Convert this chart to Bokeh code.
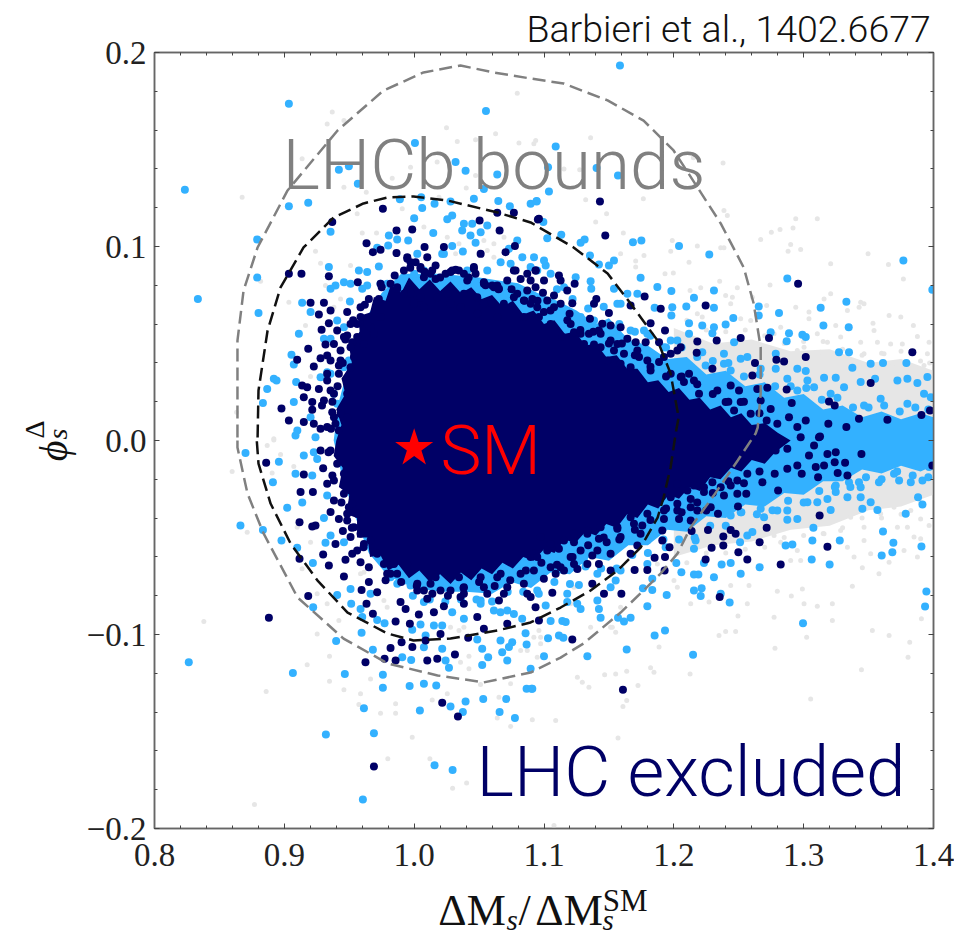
from math import pi
from bokeh.plotting import figure
from bokeh.models import Label, FixedTicker, LinearAxis, Range1d
from bokeh.embed import file_html
from bokeh.resources import INLINE

x_ticks = [0.8, 0.9, 1.0, 1.1, 1.2, 1.3, 1.4]
x_labels = ["0.8", "0.9", "1.0", "1.1", "1.2", "1.3", "1.4"]
y_ticks = [-0.2, -0.1, 0.0, 0.1, 0.2]
y_labels = ["\u22120.2", "\u22120.1", "0.0", "0.1", "0.2"]
x_minor = [0.8 + 0.02 * i for i in range(31)]
y_minor = [-0.2 + 0.02 * i for i in range(21)]

outer_bound = [(.8639,.0015),(.8639,.0515),(.8686,.0773),(.8794,.0995),(.9025,.1289),(.9410,.1598),(.9764,.1804),(1.0072,.1897),(1.0357,.1933),(1.0612,.1897),(1.0897,.1866),(1.1151,.184),(1.1490,.1753),(1.1767,.1649),(1.1998,.1495),(1.2183,.1304),(1.2361,.1119),(1.2538,.0892),(1.2615,.0706),(1.2669,.0479),(1.2669,.0242),(1.2646,.0067),(1.2630,.0036),(1.2492,-.0103),(1.2307,-.0284),(1.2129,-.0448),(1.2029,-.0582),(1.1898,-.0686),(1.1767,-.0773),(1.1590,-.0887),(1.1305,-.1046),(1.1128,-.1119),(1.0897,-.1196),(1.0535,-.1247),(1.0180,-.1211),(.9795,-.1149),(.9456,-.1021),(.9102,-.0809),(.8840,-.0479),(.8716,-.0273),(.8639,-.0036),(.8639,.0015)]
inner_bound = [(.8794,.0015),(.8801,.0258),(.8871,.0567),(.8971,.0789),(.9148,.0995),(.9379,.1149),(.9610,.1222),(.9795,.1253),(.9995,.1258),(1.0257,.1237),(1.0643,.1175),(1.0897,.1124),(1.1228,.0995),(1.1490,.0861),(1.1667,.0706),(1.1875,.0515),(1.1975,.0345),(1.2037,.0119),(1.2014,.0036),(1.1975,-.0139),(1.1921,-.0294),(1.1875,-.0397),(1.1744,-.0552),(1.1567,-.067),(1.1359,-.0773),(1.1128,-.0861),(1.0897,-.0938),(1.0643,-.0979),(1.0280,-.1021),(.9995,-.1031),(.9795,-.0995),(.9487,-.0887),(.9256,-.0722),(.9048,-.0531),(.8894,-.0325),(.8801,-.0119),(.8786,.0015)]

navy_core = [(.9400,0),(.9440,.008),(.9400,.016),(.9470,.024),(.9440,.032),(.9520,.040),(.9500,.048),(.9580,.056),(.9570,.064),(.9660,.066),(.9690,.074),(.9780,.072),(.9820,.080),(.9900,.076),(.9960,.084),(1.0040,.078),(1.0120,.083),(1.0200,.077),(1.0280,.082),(1.0360,.076),(1.0440,.079),(1.0520,.073),(1.0600,.075),(1.0680,.069),(1.0760,.072),(1.0840,.065),(1.0920,.067),(1.1000,.060),(1.1080,.062),(1.1160,.055),(1.1240,.056),(1.1320,.049),(1.1400,.050),(1.1480,.043),(1.1560,.044),(1.1640,.037),(1.1720,.037),(1.1800,.030),(1.1880,.031),(1.1960,.025),(1.2040,.027),(1.2120,.021),(1.2200,.022),(1.2280,.016),(1.2360,.018),(1.2440,.012),(1.2520,.014),(1.2600,.008),(1.2700,.009),(1.2800,.004),(1.2900,0),(1.2780,-.006),(1.2700,-.012),(1.2600,-.010),(1.2520,-.016),(1.2440,-.014),(1.2360,-.020),(1.2280,-.019),(1.2200,-.026),(1.2120,-.024),(1.2040,-.030),(1.1960,-.028),(1.1880,-.035),(1.1800,-.033),(1.1720,-.040),(1.1640,-.038),(1.1560,-.045),(1.1480,-.043),(1.1400,-.049),(1.1320,-.047),(1.1240,-.053),(1.1160,-.051),(1.1080,-.058),(1.1000,-.056),(1.0920,-.062),(1.0840,-.060),(1.0760,-.066),(1.0680,-.063),(1.0600,-.069),(1.0520,-.066),(1.0440,-.072),(1.0360,-.068),(1.0280,-.074),(1.0200,-.069),(1.0120,-.073),(1.0040,-.067),(.9960,-.071),(.9880,-.064),(.9800,-.067),(.9740,-.059),(.9660,-.060),(.9640,-.050),(.9560,-.050),(.9560,-.040),(.9480,-.038),(.9500,-.028),(.9420,-.024),(.9450,-.014),(.9380,-.008)]
blue_core = [(.9900,.086),(1.0200,.086),(1.0500,.084),(1.0800,.081),(1.0950,.076),(1.1100,.072),(1.1250,.067),(1.1400,.060),(1.1500,.063),(1.1650,.052),(1.1800,.049),(1.1950,.042),(1.2100,.043),(1.2250,.034),(1.2400,.036),(1.2550,.028),(1.2700,.030),(1.2850,.022),(1.3000,.024),(1.3150,.016),(1.3300,.018),(1.3450,.012),(1.3600,.015),(1.3750,.011),(1.3900,.014),(1.4000,.012),(1.4000,-.013),(1.3900,-.016),(1.3750,-.013),(1.3600,-.017),(1.3450,-.015),(1.3300,-.021),(1.3150,-.021),(1.3000,-.028),(1.2850,-.027),(1.2700,-.034),(1.2550,-.033),(1.2400,-.040),(1.2250,-.039),(1.2100,-.047),(1.1950,-.046),(1.1800,-.054),(1.1650,-.054),(1.1500,-.062),(1.1350,-.060),(1.1200,-.069),(1.1050,-.068),(1.0900,-.076),(1.0750,-.073),(1.0600,-.079),(1.0400,-.078),(1.0200,-.078),(1.0000,-.076),(.9800,-.070),(.9650,-.058),(.9550,-.040),(.9450,-.020),(.9380,0),(.9420,.020),(.9500,.040),(.9600,.060),(.9750,.076)]
gray_core = [(1.2000,.058),(1.2300,.050),(1.2600,.052),(1.2900,.046),(1.3200,.047),(1.3500,.040),(1.3750,.042),(1.4000,.036),(1.4000,-.028),(1.3750,-.034),(1.3500,-.036),(1.3200,-.044),(1.2900,-.046),(1.2600,-.052),(1.2300,-.054),(1.2000,-.060)]

gray_points = [(.8675,.1254),(.9369,.1693),(.9330,.1632),(.9459,.1650),(1.0794,.1790),(1.0249,.1612),(1.0627,.1581),(1.0332,.1541),(1.0473,.1550),(1.0807,.1533),(1.0922,.1529),(.9137,.1452),(.9831,.1352),(1.0473,.1366),(1.0177,.1435),(.9972,.1409),(.9459,.1306),(.9631,.1280),(.9561,.1169),(.9908,.1194),(1.0401,.1301),(1.0191,.1254),(.9240,.0976),(.9600,.1069),(.9710,.1069),(.9279,.0914),(.9510,.0902),(.8817,.0821),(.9317,.0799),(.9035,.0713),(.9433,.0730),(.9382,.0687),(.9163,.0593),(.8632,.0146),(.8919,.0009),(.9202,.0330),(1.0255,.1048),(1.0345,.1014),(1.0537,.1031),(1.0614,.1014),(1.0692,.1048),(1.0563,.0979),(1.0614,.0945),(1.0319,.0962),(1.0075,.1100),(1.0845,.0773),
(.8598,-.0160),(.8919,.0003),(.8868,-.0026),(.8971,-.0072),(.9073,-.0134),(.8906,-.0167),(.9099,-.0447),(.8714,-.0473),(.9202,-.0524),(.9137,-.0661),(.9253,-.0790),(.9330,-.0842),(.8380,-.0933),(.9253,-.0997),(.9420,-.0928),(.9348,-.1112),(.9176,-.1156),(.8860,-.1294),(.9348,-.1241),(.9459,-.1285),(.9587,-.1306),(.9664,-.1229),(.9574,-.1361),(.9741,-.1406),(.9857,-.1357),(.9857,-.1406),(.9985,-.1529),(.9797,-.1641),(1.0121,-.1641),(1.0404,-.1765),(1.0296,-.1792),(.8770,-.1876),(1.0255,-.1306),(1.0139,-.1337),(1.0653,-.1323),(1.0743,-.1474),(1.0640,-.1430),(1.0422,-.1112),(1.0422,-.1177),(1.0357,-.1143),(1.0871,-.1083),(1.0820,-.1083),(1.0743,-.1254),(1.0511,-.1258),(1.0948,-.1117),(.9767,-.0825),(.9792,-.0859),(1.0280,-.0962),(1.0345,-.0979),(1.0383,-.0962),(1.0922,-.1014),(1.0961,-.0979),(.9613,-.0679),(.9587,-.0687),
(1.0936,.1546),(1.1359,.1560),(1.2379,.1430),(1.2150,.1457),(1.1275,.1395),(1.1154,.1400),(1.1321,.1241),(1.1765,.1246),(1.1482,.1169),(1.2386,.1186),(1.2412,.1160),(1.2939,.1143),(1.3105,.1143),(1.2751,.1074),(1.2818,.1088),(1.2918,.1095),(1.2669,.1036),(1.1398,.1126),(1.1611,.1069),(1.1988,.1031),(1.2181,.1002),(1.2361,.0993),(1.2386,.0993),(1.2900,.1010),(1.2880,.0976),(1.2977,.0985),(1.3496,.0962),(1.3208,.0911),(1.3653,.0907),(1.3768,.0833),(1.1976,.0976),(1.1706,.0925),(1.1590,.0962),(1.1770,.0954),(1.1706,.0894),(1.2117,.0919),(1.1932,.0859),(1.1996,.0864),(1.2353,.0821),(1.2741,.0802),(1.3208,.0756),(1.3157,.0730),(1.3465,.0705),(1.3439,.0713),(1.2489,.0787),(1.2207,.0787),(1.2125,.0773),(1.2399,.0748),(1.2451,.0739),(1.2605,.0739),(1.2715,.0696),(1.2438,.0705),(1.2939,.0687),(1.3041,.0662),(1.3041,.0627),(1.3534,.0605),(1.3658,.0644),(1.3748,.0636),(1.3845,.0593),(1.3876,.0536),(1.3337,.0670),(1.3427,.0687),(1.3247,.0593),(1.3542,.0567),(1.3568,.0507),(1.3670,.0498),(1.3760,.0498),(1.3966,.0507),(1.3439,.0507),(1.3285,.0533),(1.3105,.0550),(1.3183,.0507),(1.3003,.0481),(1.2823,.0584),(1.2772,.0550),(1.2592,.0619),(1.2515,.0627),(1.2181,.0653),(1.2219,.0636),(1.3619,.0447),(1.3953,.0447),(1.3465,.0447),(1.3208,.0430),(1.3131,.0455),(1.2951,.0464),(1.2874,.0438),(1.3927,.0387),(1.3799,.0361),(1.3683,.0387),(1.3465,.0387),
(1.3901,-.0404),(1.3966,-.0438),(1.3850,-.0498),(1.3901,-.0507),(1.3773,-.0567),(1.3658,-.0627),(1.3580,-.0687),(1.3876,-.0601),(1.3452,-.0656),(1.3375,-.0751),(1.3221,-.0842),(1.3105,-.0854),(1.3003,-.0842),(1.2990,-.0765),(1.2905,-.0802),(1.2797,-.0777),(1.2772,-.0911),(1.3221,-.0928),(1.3907,-.0919),(1.3529,-.0979),(1.3658,-.1005),(1.3817,-.1040),(1.3804,-.1117),(1.3445,-.1182),(1.3023,-.1014),(1.2779,-.1071),(1.3054,-.1332),(1.2494,-.0905),(1.2476,-.0985),(1.2399,-.0985),(1.2348,-.1005),(1.2566,-.0842),(1.2271,-.0833),(1.2130,-.0842),(1.1886,-.1065),(1.1821,-.1172),(1.1847,-.1194),(1.2125,-.1203),(1.1637,-.1189),(1.1724,-.1263),(1.1552,-.1203),(1.1467,-.1208),(1.1257,-.1220),(1.1295,-.1246),(1.1346,-.1272),(1.1637,-.1340),(1.1608,-.1371),(1.0910,-.1440),(1.1090,-.1443),(1.1570,-.1533),(1.1077,-.1985),(1.1526,-.0962),(1.1552,-.0988),(1.1359,-.0962),(1.0974,-.1014),(1.0974,-.1048),(1.2027,-.0756),(1.2001,-.0722),(1.2438,-.0747),(1.2579,-.0747),(1.2772,-.0490),(1.2823,-.0524),(1.2951,-.0567),(1.2977,-.0619),(1.2900,-.0619),(1.3337,-.0550),(1.3388,-.0601),(1.3465,-.0515),(1.3516,-.0584),(1.3722,-.0447),(1.3799,-.0447),(1.3362,-.0395),(1.3465,-.0447),(1.3285,-.0464),(1.3593,-.0378),(1.3696,-.0344),(1.3825,-.0361),(1.3157,-.0481),(1.2746,-.0412),(1.2438,-.0636),(1.1873,-.0636),(1.1590,-.0859),(1.1231,-.0756),(1.1205,-.0842),(1.1513,-.0962),
(1.21,.062),(1.225,.057),(1.24,.056),(1.255,.057),(1.27,.054),(1.285,.050),(1.30,.051),(1.315,.051),(1.33,.047),(1.345,.044),(1.36,.045),(1.375,.046),(1.39,.041),(1.397,.040),(1.39,-.032),(1.375,-.038),(1.36,-.040),(1.345,-.040),(1.33,-.045),(1.315,-.048),(1.30,-.049),(1.285,-.050),(1.27,-.055),(1.255,-.056),(1.24,-.058),(1.225,-.058),(1.21,-.063)]

blue_points = [(.9035,.1736),(1.0553,.1698),(.8234,.1292),(.8791,.1036),(.8791,.0840),(.8334,.0729),(.8801,.0657),(.9035,.1208),(.9184,.1225),(1.0006,.1533),(.9420,.1395),(.9497,.1414),(.9566,.1323),(.9890,.1244),(1.0054,.1254),(1.0062,.1199),(1.0396,.1390),(1.0640,.1371),(1.0319,.1435),
(.9356,.1076),(.9343,.0894),(.9574,.0876),(.9638,.0868),(.9728,.0897),(.9805,.1057),(.9869,.1036),(.9954,.1031),(1.0147,.1069),(1.0,.1146),(1.0157,.122),(1.0280,.1232),(1.0255,.114),(1.0293,.116),(1.0383,.1117),(1.037,.1083),(1.0447,.1117),(1.0434,.1057),(1.0512,.1074),(1.0563,.1108),(1.0460,.1246),(1.0537,.1297),(1.0648,.1234),(1.0737,.1208),(1.0897,.122),(1.0943,.1234),(1.0794,.1031),(1.073,.0988),(1.0473,.1019),(1.0293,.1002),(1.0375,.0974),(1.0216,.0962),(1.0024,.0962),(.9800,.1005),(.9715,.0993),
(.9459,.0816),(.9394,.0799),(.9356,.0782),(.951,.0808),(.9638,.0799),(.96,.0782),(.9741,.0808),(.9792,.0808),(.9137,.0710),(.9202,.0662),(.9112,.0550),(.9356,.0524),(.9305,.0524),(.9407,.0619),(.9459,.0584),(.9505,.0717),(.9055,.0442),(.9073,.0392),(.8919,.0318),(.894,.0309),(.8868,.0266),(.9091,.0301),(.8835,.0193),(.9073,.0198),(.933,.0352),(.9279,.0326),(.9202,.0120),(.91,.0052),(.9086,.0026),(.924,.0017),
(.8701,-.0064),(.8958,-.011),(.9086,-.0172),(.9215,-.0181),(.8912,-.0215),(.915,-.0077),(.9227,-.006),(.9253,-.0095),(.933,-.0284),(.9138,-.032),(.9022,-.0347),(.9305,-.0399),(.8662,-.0438),(.8835,-.0461),(.8978,-.0515),(.9099,-.0553),(.9317,-.0527),(.9356,-.0490),(.9459,-.0524),(.922,-.0632),(.9407,-.0796),(.9222,-.0859),(.951,-.0765),(.9515,-.0842),(.9587,-.0868),(.9664,-.079),(.96,-.091),(.9715,-.0925),(.9772,-.0942),(.9595,-.0991),(.9399,-.1034),(.9682,-.1079),(.9908,-.1117),(.9977,-.1131),(.9985,-.0976),(1.0049,-.0948),(1.0088,-.1005),(1.0152,-.0954),(1.0216,-.0954),(1.0075,-.1066),(1.0216,-.1074),(1.0242,-.1134),(1.0268,-.1172),(1.0486,-.1026),(1.0524,-.1074),(1.057,-.1117),(1.0524,-.1157),(1.0665,-.1031),(1.0755,-.1040),(1.0678,-.1091),(1.073,-.1065),(1.0717,-.1134),(1.0858,-.0993),(1.0866,-.1052),(1.0897,-.1177),
(.8264,-.1143),(.9066,-.1198),(.9466,-.1203),(.9759,-.1208),(.9759,-.1275),(.9965,-.1266),(1.0075,-.1254),(1.017,-.1263),(.9613,-.138),(1.0044,-.1392),(1.028,-.1371),(1.0396,-.1345),(1.0375,-.14),(1.0532,-.1333),(1.0709,-.1333),(1.0658,-.14),(1.0776,-.1431),(1.0866,-.128),(1.0904,-.128),(.932,-.1515),(.969,-.1509),(1.0157,-.1674),(1.0296,-.1698),(.9605,-.185),
(.9818,-.0705),(.9921,-.0722),(.987,-.0739),(.9972,-.0747),(1.0614,-.0876),(1.0665,-.0885),(1.0717,-.0876),(1.0512,-.0842),(1.0383,-.0919),(1.0293,-.0885),(1.0075,-.0833),(1.0768,-.0894),(1.0832,-.0919),(1.0845,-.0636),(1.0884,-.0670),(1.0537,-.0636),(1.0512,-.0825),
(.9407,.0189),(.9381,.0241),(.9356,.0344),(.9459,.0378),(.9497,.0412),(1.064,.0739),(1.0717,.0773),(1.0794,.0722),(1.0358,.0790),(1.0280,.0782),(1.0178,.0756),(1.0,.0859),(1.0075,.0876),(1.0229,.0962),(1.0409,.0876),(1.0563,.0876),(1.0666,.0919),(1.0743,.0911),(1.0833,.0945),(1.0897,.0894),(1.0922,.0739),
(1.1585,.1933),(1.1090,.1516),(1.1031,.1409),(1.1405,.1404),(1.1570,.1366),(1.1038,.1284),(1.0943,.1232),(1.0995,.1126),(1.1025,.1043),(1.1133,.1060),(1.1282,.1019),(1.1313,.1036),(1.1685,.1022),(1.175,.1031),(1.204,.1002),(1.2273,.0959),(1.1354,.0954),(1.1423,.0907),(1.1500,.0902),(1.1539,.0928),(1.0923,.0945),(1.1013,.0902),(1.1244,.0842),(1.1359,.0821),(1.1364,.0782),(1.1744,.0839),(1.1873,.0791),(1.1981,.0770),(1.2155,.0736),(1.2309,.0773),(1.1539,.0782),(1.1642,.0756),(1.1719,.0756),(1.1565,.0705),(1.1988,.0687),(1.2096,.0691),(1.1852,.0684),(1.1981,.0644),(1.2309,.0684),(1.2654,.0691),(1.2654,.0644),(1.2810,.0657),(1.2874,.0835),(1.3131,.0684),(1.3329,.0715),(1.3152,.0593),(1.3347,.0584),(1.2458,.0631),(1.2399,.0598),(1.2309,.0584),(1.2219,.0593),(1.2117,.0605),(1.2297,.0553),(1.2117,.0550),(1.2746,.0558),(1.2887,.0553),(1.2869,.0512),(1.2990,.0545),(1.3016,.0533),(1.3272,.0455),(1.3349,.0455),(1.3375,.0375),(1.3516,.0395),(1.3611,.0400),(1.3791,.0400),(1.3768,.0928),(1.3991,.0777),(1.3157,.0323),(1.3247,.0323),(1.3439,.0301),(1.3550,.0318),(1.3722,.0309),(1.3799,.0318),(1.3876,.0296),(1.3953,.0327),(1.3311,.0275),(1.3979,.0223),(1.3029,.0309),(1.2874,.0318),(1.2785,.0447),(1.2566,.0430),(1.2951,.0370),(1.3016,.0358),(1.2785,.0370),(1.2669,.0370),(1.2464,.0507),(1.2386,.0447),(1.2219,.0455),(1.2027,.0516),(1.1976,.0516),(1.1924,.0481),(1.2245,.0387),(1.2386,.0395),(1.2438,.0361),(1.2515,.0421),(1.1590,.0705),(1.1231,.0636),(1.1282,.0636),(1.1385,.0619),(1.1539,.0567),(1.1667,.0567),(1.1770,.0567),(1.1051,.0859),(1.1154,.0790),(1.1,.0928),(1.0948,.0876),(1.1077,.0619),(1.0974,.0739),(1.1282,.0533),(1.1565,.0412),(1.1796,.0550),(1.1667,.0430),
(1.3465,.0181),(1.3593,.0215),(1.3799,.0189),(1.3208,.0241),(1.3080,.0275),(1.2951,.0258),(1.3927,.0241),
(1.3945,-.0778),(1.3935,-.0856),(1.2995,-.0942),(1.2148,-.1105),(1.1637,-.1077),(1.1334,-.1112),(1.1,-.1112),(1.0910,-.128),(1.1932,-.0979),(1.1852,-.1005),(1.1667,-.0914),(1.1616,-.0933),(1.1570,-.0914),(1.1436,-.0914),(1.1423,-.0868),(1.1796,-.0854),(1.2430,-.0835),(1.1945,-.0796),(1.1834,-.0770),(1.1762,-.0761),(1.2207,-.0802),(1.2155,-.0773),(1.2214,-.0761),(1.2361,-.0790),(1.2155,-.0691),(1.2189,-.0691),(1.2309,-.0705),(1.2058,-.0679),(1.2019,-.0631),(1.2232,-.0631),(1.2368,-.0639),(1.2438,-.0632),(1.2515,-.0687),(1.2661,-.0653),(1.1834,-.0713),(1.3062,-.0613),(1.3200,-.0639),(1.3601,-.0593),(1.3683,-.0576),(1.3907,-.0546),(1.3691,-.0527),(1.3278,-.0515),(1.3067,-.0515),(1.2861,-.0541),(1.2913,-.0536),(1.3075,-.0450),(1.3611,-.0469),(1.2951,-.0404),(1.2874,-.0409),(1.3786,-.0378),(1.3568,-.0358),(1.3452,-.0352),(1.3208,-.0358),(1.3915,-.0330),(1.3881,-.0292),(1.3516,-.0318),(1.3439,-.0292),(1.3337,-.0292),(1.3183,-.0301),(1.3105,-.0318),(1.3029,-.0318),(1.2874,-.0361),(1.2797,-.0361),(1.2695,-.0395),(1.2669,-.0352),(1.2438,-.0387),(1.2515,-.0370),(1.2168,-.0515),(1.2155,-.0558),(1.1937,-.0550),(1.1796,-.0515),(1.2510,-.0524),(1.2566,-.0490),(1.2605,-.0472),(1.3247,-.0266),(1.3349,-.0215),(1.3426,-.0215),(1.3580,-.0215),(1.3735,-.0206),(1.3825,-.0215),(1.3915,-.0206),(1.3439,-.0241),(1.3247,-.0232),(1.3696,-.0172),(1.3966,-.0137),(1.2682,-.0215),
(1.1051,-.0931),(1.1141,-.0931),(1.1167,-.0936),(1.1031,-.1019),(1.1115,-.1005),(1.1149,-.1017),(1.1013,-.0851),(1.1179,-.0790),(1.1282,-.0868),(1.1411,-.0825),(1.1269,-.0745),(1.1513,-.0756),(1.1552,-.0722),(1.1411,-.0687),(1.1590,-.0670),(1.1667,-.0515),(1.1154,-.0601),(1.1308,-.0619),(1.1565,-.0550),(1.0948,-.0773),(1.1179,-.0833),(1.1256,-.0842),(1.1796,-.0636),
(1.110,.078),(1.122,.073),(1.134,.068),(1.146,.069),(1.158,.060),(1.170,.056),(1.182,.054),(1.194,.048),(1.206,.048),(1.218,.043),(1.230,.041),(1.242,.040),(1.254,.033),(1.266,.034),(1.278,.028),(1.290,.028),(1.302,.027),(1.314,.021),(1.326,.022),(1.338,.017),(1.350,.017),(1.362,.018),(1.374,.015),(1.386,.017),(1.396,.016),
(1.396,-.019),(1.384,-.018),(1.372,-.016),(1.360,-.020),(1.348,-.019),(1.336,-.024),(1.324,-.024),(1.312,-.026),(1.300,-.032),(1.288,-.031),(1.276,-.036),(1.264,-.038),(1.252,-.037),(1.240,-.044),(1.228,-.044),(1.216,-.050),(1.204,-.051),(1.192,-.051),(1.180,-.058),(1.168,-.059),(1.156,-.066),(1.144,-.066),(1.132,-.065),(1.120,-.074),(1.108,-.073),(1.096,-.079),(1.084,-.078),(1.072,-.078),(1.060,-.083),(1.048,-.082),(1.036,-.082),(1.024,-.083),(1.012,-.082),(.999,-.080)]

navy_points = [(.9759,.1194),(.9369,.1126),(.9035,.0859),(.9132,.0859),(.9343,.0847),(.9633,.1017),(.9682,.0971),(.9741,.0983),(.9864,.1083),(.9985,.1088),(.9864,.0966),(1.0080,.0997),(1.0229,.0997),(1.0504,.1134),(1.0658,.1083),(1.0640,.1174),(1.0768,.1174),(1.0953,.1139),(1.0512,.0962),(1.0704,.0971),(1.0776,.1002),
(.9566,.0816),(.9741,.0808),(.9947,.0945),(1.0101,.0945),(1.0165,.0902),(1.0280,.0868),(1.0460,.0885),(1.0383,.0859),(.9972,.0919),(1.0049,.0885),(1.0126,.0859),(1.0614,.0790),(1.0537,.0808),(1.0781,.0876),(1.0871,.0859),(1.0935,.0876),(1.0717,.0825),(1.0871,.0773),(1.0383,.0756),(1.0794,.0756),(1.0640,.0799),(.9921,.0876),(.9869,.0790),(.9972,.0756),(.9818,.0808),(.9728,.0730),(.9651,.0730),(.9202,.0710),(.9305,.0710),(.9356,.0670),(.9266,.0650),(.9484,.0662),(.9587,.0687),(.9741,.0636),(.9587,.0636),(.9510,.0601),(.9343,.0605),(.9287,.0571),(.9664,.0584),(.9484,.0541),(.9382,.0498),(.9317,.0495),(.9184,.0473),(.9099,.0416),(.9279,.0424),(.9330,.0438),(.9433,.0464),(.9523,.0507),(.9420,.0387),(.9227,.0382),(.9137,.0284),(.9176,.0275),(.9266,.0266),(.9356,.0258),(.9150,.0223),(.9215,.0198),(.9290,.0181),(.9215,.0158),(.8978,.0165),(.9035,.0103),(.9150,.0095),(.9369,.0146),(.9279,.0060),(.9227,.0086),(.9433,.0138),(.9394,.0086),
(.8860,-.0115),(.9150,-.0175),(.9299,-.0143),(.9279,-.0052),(.9125,-.0266),(.9220,-.0266),(.9382,-.0309),(.9356,-.0369),(.9420,-.0404),(.9117,-.0421),(.9215,-.0443),(.9240,-.0438),(.9451,-.0467),(.9394,-.0533),(.9299,-.0588),(.9117,-.0610),(.9343,-.0644),(.9459,-.0701),(.9471,-.0615),(.9184,-.0802),(.9595,-.0770),(.9633,-.0842),(.9682,-.0893),(.8881,-.0914),(.9857,-.0933),(.9967,-.0945),(1.0036,-.0897),(1.0101,-.0816),(1.0152,-.0885),(.9934,-.0868),(.9895,-.0833),(1.0229,-.0854),(1.0383,-.0842),(1.0486,-.0910),(1.0537,-.0971),(1.0717,-.0945),(1.0203,-.0997),(1.0088,-.1031),(.9903,-.1040),(.9818,-.1070),(.9986,-.1065),(1.0416,-.1017),(1.0314,-.1103),(.9625,-.1143),(.9772,-.1125),(.9857,-.1134),(1.0101,-.1134),(1.0178,-.1125),(1.0216,-.1352),(1.0337,-.1423),(.9690,-.1681),
(.9613,-.0533),(.9523,-.0584),(.9587,-.0627),(.9651,-.0653),(.9651,-.0730),(.9715,-.0782),(.9818,-.0687),(1.0024,-.0773),(1.0126,-.0739),(1.0280,-.0773),(1.0383,-.0790),(1.0563,-.0790),(1.0653,-.0825),(1.0871,-.0790),(1.0935,-.0859),(1.0666,-.0687),(1.0820,-.0687),(1.0512,-.0705),(1.0345,-.0705),(1.0165,-.0705),(1.0897,-.0601),(.9484,-.0412),(.9497,-.0344),
(1.1431,.1232),(1.0961,.1143),(1.1472,.1057),(1.0936,.0876),(1.1,.0825),(1.1115,.0851),(1.1236,.0808),(1.1128,.0825),(1.0992,.0761),(1.1077,.0748),(1.1179,.0773),(1.0910,.0730),(1.1077,.0687),(1.1218,.0708),(1.1403,.0730),(1.1385,.0705),(1.1500,.0657),(1.1197,.0653),(1.0999,.0662),(1.0961,.0636),(1.1354,.0627),(1.1590,.0584),(1.1667,.0696),(1.1775,.0742),(1.1899,.0679),(1.2245,.0696),(1.1821,.0605),(1.1932,.0567),(1.2181,.0510),(1.2330,.0516),(1.2515,.0528),(1.2733,.0528),(1.2957,.0808),(1.1513,.0593),(1.1449,.0602),(1.1423,.0567),(1.1346,.0550),(1.1308,.0498),(1.1385,.0495),(1.1513,.0516),(1.1642,.0524),(1.1706,.0507),(1.1783,.0507),(1.1886,.0507),(1.2053,.0481),(1.1976,.0447),(1.2176,.0452),(1.1732,.0430),(1.1886,.0404),(1.1539,.0464),(1.1141,.0533),(1.1231,.0558),(1.1051,.0601),(1.3016,.0430),(1.2849,.0407),(1.2790,.0416),(1.2625,.0399),(1.2605,.0335),(1.3837,.0455),(1.3516,.0297),(1.2297,.0370),(1.2117,.0344),(1.2155,.0309),(1.2078,.0301),(1.2438,.0284),(1.2502,.0258),(1.2335,.0258),(1.2194,.0241),(1.2515,.0198),(1.2399,.0198),(1.2464,.0155),(1.2643,.0266),(1.2720,.0272),(1.2869,.0263),(1.2669,.0206),(1.2746,.0163),(1.2908,.0193),(1.3195,.0201),(1.3239,.0181),(1.2715,.0103),(1.2887,.0120),(1.3016,.0103),(1.3190,.0086),(1.3329,.0069),(1.3426,.0112),(1.3645,.0107),(1.3907,.0132),(1.3973,.0155),(1.2592,.0138),(1.2797,.0086),(1.2951,.0069),(1.3118,.0017),
(1.3126,.0021),(1.3445,-.0069),(1.3080,-.0026),(1.3041,-.0077),(1.2951,-.0129),(1.2874,-.0146),(1.2985,-.0172),(1.3093,-.0137),(1.3157,-.0129),(1.3183,-.0069),(1.3247,-.0060),(1.3239,-.0112),(1.3319,-.0115),(1.3262,-.0167),(1.3337,-.0180),(1.3111,-.0189),(1.3991,-.0129),(1.2777,-.0172),(1.2682,-.0215),(1.2803,-.0258),(1.2558,-.0275),(1.2494,-.0340),(1.2340,-.0378),(1.2250,-.0361),(1.2715,-.0450),(1.3123,-.0386),(1.2438,-.0461),(1.2263,-.0461),(1.2137,-.0467),(1.2381,-.0495),(1.2476,-.0481),(1.2661,-.0524),(1.3183,-.0548),(1.2381,-.0541),(1.2291,-.0553),(1.1967,-.0550),(1.2497,-.0576),(1.2566,-.0613),(1.2245,-.0613),(1.2823,-.0639),(1.1932,-.0601),(1.1852,-.0605),(1.1929,-.0670),(1.1796,-.0667),(1.1698,-.0667),(1.2353,-.0807),(1.1608,-.1285),(1.1218,-.1026),(1.0961,-.0928),(1.1596,-.0790),(1.1462,-.0790),(1.1064,-.0785),(1.1372,-.0739),(1.1513,-.0670),(1.1423,-.0636),(1.1257,-.0662),(1.1154,-.0670),(1.1090,-.0687),(1.0999,-.0713),(1.1372,-.0593),(1.1282,-.0567),(1.1205,-.0601),(1.1513,-.0584),(1.1667,-.0584),(1.0923,-.0584),(1.1025,-.0567),(1.1115,-.0558),(1.1231,-.0524),(1.1423,-.0507),(1.1483,-.0524),(1.1334,-.0481),(1.1719,-.0541),(1.1911,-.0515),(1.1911,-.0464),(1.1565,-.0455),(1.1693,-.0429),(1.1757,-.0438),(1.1924,-.0404),(1.2040,-.0404),(1.2130,-.0412),(1.2181,-.0361),(1.2027,-.0361),(1.2027,-.0223),(1.2155,-.0232),(1.2232,-.0266),(1.2297,-.0215),(1.2438,-.0232),(1.2386,-.0283),(1.2130,-.0301),(1.2566,-.0172),(1.2784,-.0052),(1.2874,-.0043),(1.2977,.0017),
(.9947,.0937),(1.0011,.0919),(1.0049,.0894),(1.0075,.0842),(1.0139,.0876),(1.0165,.0833),(1.0242,.0859),(1.0293,.0876),(1.0345,.0876),(1.0460,.0894),(1.0473,.0859),(1.0537,.0816),(1.0601,.0799),(1.0653,.0782),(1.0768,.0876),(1.0820,.0833),(1.0897,.0825),(1.0935,.0790),(.9869,.0782),(.9921,.0756),(.9998,.0705),(1.0049,.0739),(1.0075,.0687),(1.0178,.0739),(1.0255,.0756),(1.0280,.0705),(1.0358,.0687),(1.0409,.0825),(1.0486,.0739),(1.0537,.0705),(1.0601,.0705),(1.0691,.0705),(1.0768,.0739),(1.0845,.0722),(1.0897,.0705),(1.0486,.0653),(1.0640,.0636),(1.0845,.0636),
(.9407,.0567),(.9459,.0533),(.9561,.0601),(.9638,.0601),(.9561,.0533),(.9510,.0481),(.9613,.0498),(.9433,.0412),(.9356,.0412),(.9330,.0344),(.9420,.0344),(.9484,.0309),(.9330,.0309),(.9382,.0241),(.9305,.0206),(.9484,.0241),(.9459,.0172),(.9382,.0120),(.9484,.0120),(.9330,.0069),(.9420,.0052),(.9510,.0378),(.9536,.0430),(.9690,.0550),
(.9356,-.0052),(.9407,-.0120),(.9382,-.0206),(.9459,-.0172),(.9330,-.0223),(.9459,-.0275),(.9523,-.0326),(.9484,-.0378),(.9561,-.0378),(.9536,-.0447),(.9587,-.0481),(.9664,-.0515),(.9510,-.0498),(.9561,-.0567),(.9715,-.0584),(.9767,-.0636),(.9844,-.0636),(.9792,-.0687),(.9869,-.0687),(.9947,-.0636),(1.0024,-.0739),(1.0075,-.0773),(1.0203,-.0773),(1.0383,-.0756),(1.0357,-.0807),(1.0434,-.0687),(1.0537,-.0756),(1.0640,-.0705),(1.0717,-.0756),(1.0845,-.0739),(1.0897,-.0807),(1.0691,-.0790),(1.0922,-.0670),
(1.0948,.0687),(1.1025,.0722),(1.1128,.0705),(1.1205,.0601),(1.1282,.0550),(1.1436,.0550),(1.1565,.0498),(1.1436,.0481),(1.1616,.0447),(1.1719,.0464),(1.1796,.0412),(1.1924,.0430),(1.2027,.0464),(1.1590,.0395),(1.1667,.0378),(1.1821,.0361),(1.1976,.0344),(1.2053,.0327),(1.1488,.0412),
(1.0974,-.0498),(1.1051,-.0533),(1.1154,-.0515),(1.1231,-.0481),(1.1334,-.0464),(1.1436,-.0447),(1.1565,-.0447),(1.1667,-.0395),(1.1796,-.0378),(1.1924,-.0361),(1.0948,-.0601),(1.1051,-.0653),(1.1128,-.0653),(1.1231,-.0636),(1.1334,-.0636),(1.1411,-.0567),(1.1590,-.0498),(1.1744,-.0481),(1.1976,-.0292),(1.2027,-.0326),(1.2104,-.0258),(1.2232,-.0241),(1.2361,-.0241),(1.2489,-.0275),(1.2284,-.0344),(1.2130,-.0344),(1.2489,-.0206),
(.962,.070),(.975,.079),(.985,.085),(.997,.089),(1.008,.087),(1.020,.084),(1.032,.088),(1.042,.084),(1.055,.080),(1.065,.078),(1.075,.078),(1.085,.072),(1.095,.072),(1.105,.067),(1.118,.062),(1.128,.057),(1.138,.056),(1.150,.050),(1.160,.050),(1.170,.044),(1.182,.038),(1.194,.033),(1.206,.033),(1.218,.029),(1.230,.024),(1.242,.020),(1.254,.020),(1.266,.014),
(1.266,-.016),(1.254,-.022),(1.242,-.021),(1.230,-.027),(1.218,-.032),(1.206,-.037),(1.194,-.035),(1.182,-.041),(1.170,-.046),(1.158,-.051),(1.146,-.050),(1.134,-.054),(1.122,-.060),(1.110,-.064),(1.098,-.063),(1.086,-.067),(1.074,-.072),(1.062,-.075),(1.050,-.073),(1.038,-.076),(1.026,-.080),(1.014,-.079),(1.002,-.075),(.990,-.073),(.978,-.072),
(.961,-.055),(.952,-.045),(.944,-.032),(.937,-.018),(.934,-.006),(.936,.006),(.937,.020),(.941,.028),(.945,.040),(.947,.052),(.953,.062)]

sm_x = [1.0]
sm_y = [-0.004]

W, H = 954, 939
NAVY, BLUE, GRAY = "#000066", "#33b1ff", "#e6e6e6"
LIGHT = "Helvetica Neue, Roboto Light, Lato Light, Liberation Sans"
SERIF = "Liberation Serif"

p = figure(width=W, height=H, x_range=Range1d(0.8, 1.4), y_range=Range1d(-0.2, 0.2),
           output_backend="svg", toolbar_location=None, x_axis_location=None, y_axis_location=None,
           min_border_left=154, min_border_right=21, min_border_top=52, min_border_bottom=111,
           background_fill_color="white", outline_line_color="#666666", outline_line_width=1.5)
p.grid.visible = False


def xs(pts):
    return [a for a, _ in pts]


def ys(pts):
    return [b for _, b in pts]


p.patch(xs(gray_core), ys(gray_core), color=GRAY, line_width=0)
p.scatter(xs(gray_points), ys(gray_points), size=5, color=GRAY, line_width=0)
p.patch(xs(blue_core), ys(blue_core), color=BLUE, line_width=0)
p.scatter(xs(blue_points), ys(blue_points), size=8, color=BLUE, line_width=0)
p.patch(xs(navy_core), ys(navy_core), color=NAVY, line_width=0)
p.scatter(xs(navy_points), ys(navy_points), size=8, color=NAVY, line_width=0)
p.line(xs(outer_bound), ys(outer_bound), line_color="#808080", line_width=2.5, line_dash="13 6")
p.line(xs(inner_bound), ys(inner_bound), line_color="#111111", line_width=2.5, line_dash="13 6")
p.scatter(sm_x, sm_y, marker="star", size=40, color="#ff0000", line_width=0)


def make_axis(side, ticks, minor, labels=None, standoff=8):
    ax = LinearAxis(ticker=FixedTicker(ticks=ticks, minor_ticks=minor),
                    axis_line_color="#666666", axis_line_width=1.5,
                    major_tick_in=5, major_tick_out=0, minor_tick_in=3, minor_tick_out=0,
                    major_tick_line_color="#444444", minor_tick_line_color="#444444",
                    major_tick_line_width=1, minor_tick_line_width=1)
    if labels:
        ax.major_label_overrides = {t: s for t, s in zip(ticks, labels)}
        ax.major_label_text_font = SERIF
        ax.major_label_text_font_size = "33px"
        ax.major_label_text_color = "#222222"
        ax.major_label_standoff = standoff
    else:
        ax.major_label_overrides = {t: "" for t in ticks}
        ax.major_label_standoff = 0
    p.add_layout(ax, side)
    return ax


make_axis("below", x_ticks, x_minor, x_labels, standoff=15)
make_axis("left", y_ticks, y_minor, y_labels)
make_axis("above", x_ticks, x_minor)
make_axis("right", y_ticks, y_minor)


def piece_axis(side, where, texts, size, standoff, style="normal"):
    # Axis titles with mixed fonts: extra axes that only carry tick labels, stacked on one another
    ax = LinearAxis(ticker=FixedTicker(ticks=where), axis_line_color=None,
                    major_tick_in=0, major_tick_out=0, minor_tick_in=0, minor_tick_out=0,
                    major_label_overrides=dict(zip(where, texts)),
                    major_label_text_font=SERIF, major_label_text_font_size=f"{size}px",
                    major_label_text_font_style=style, major_label_text_color="#111111",
                    major_label_standoff=standoff)
    if side == "left":
        ax.major_label_orientation = pi / 2
    p.add_layout(ax, side)


piece_axis("below", [1.0755, 1.1495], ["s", "s"], 29, 35, style="italic")
piece_axis("below", [1.0446, 1.0851, 1.1193], ["\u0394M", "/", "\u0394M"], 44, -53)
piece_axis("below", [1.1625], ["SM"], 31, -56)

piece_axis("left", [0.0062], ["s"], 28, 26, style="italic")
piece_axis("left", [0.0], ["\u03d5"], 40, -30, style="italic")
piece_axis("left", [0.0103], ["\u0394"], 28, -29)


def put(text, px, py, size, color="#111111", font=LIGHT, panel=None):
    # A Label's screen y is measured upward from the bottom of the panel that holds it
    shift = 0.335 * size
    base = 52 if panel == "above" else 828
    label = Label(x=px - 154, y=base - py + shift, x_units="screen", y_units="screen", text=text,
                  text_font=font, text_font_size=f"{size}px", text_color=color,
                  text_baseline="alphabetic", text_align="left")
    if panel:
        p.add_layout(label, panel)
    else:
        p.add_layout(label)


put("Barbieri et al., 1402.6677", 526, 41, 37.5, panel="above")
put("LHCb bounds", 282, 188, 71, color="#808080")
put("SM", 440, 473, 69, color="#ff0000")
put("LHC excluded", 476, 795, 71, color=NAVY)

open("out.html", "w").write(file_html(p, INLINE))
